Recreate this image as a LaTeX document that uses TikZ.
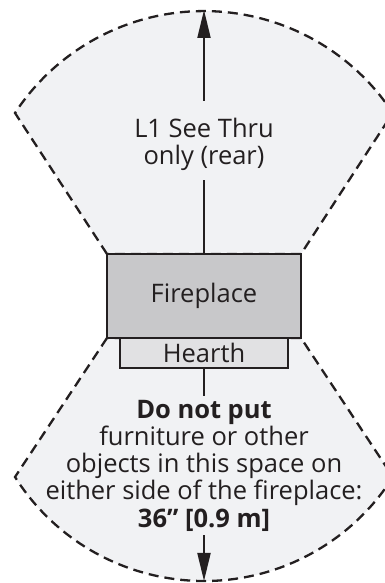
\documentclass[tikz,border=0pt]{standalone}
\usepackage{fontspec}
\setmainfont{Open Sans}
\usetikzlibrary{arrows.meta,positioning,backgrounds}
\definecolor{fanfill}{HTML}{F1F2F4}
\definecolor{fpfill}{HTML}{C8C8CA}
\definecolor{hearthfill}{HTML}{E1E1E3}
\definecolor{ink}{HTML}{231F20}
\begin{document}
\begin{tikzpicture}[x=1pt, y=1pt,
    zone/.style={fill=fanfill, draw=ink, line width=2.3pt, dash pattern=on 10pt off 6pt},
    unit/.style={draw=ink, line width=2pt, outer sep=0pt, text=ink, font=\fontsize{25.5}{27}\selectfont},
    label/.style={text=ink, align=center, inner xsep=0pt},
    stem/.style={draw=ink, line width=2pt},
    arrow/.style={-{Triangle[length=28pt, width=13pt]}, line width=2pt, draw=ink}
]
    \useasboundingbox (0,0) rectangle (385,583);

    % Fireplace and hearth
    \node[unit, fill=fpfill, minimum width=194pt, minimum height=84pt] (fp) at (204,287) {Fireplace};
    \node[unit, fill=hearthfill, minimum width=168pt, minimum height=30pt, anchor=north] (hearth) at (fp.south) {Hearth};

    % Clearance zones behind everything
    \begin{scope}[on background layer]
        \clip (0,0) rectangle (385,583);
        \filldraw[zone] (fp.north west) -- (15,470) arc[start angle=146.7, end angle=33.3, radius=226] -- (fp.north east) -- cycle;
        \filldraw[zone] (fp.south west) -- (15,106) arc[start angle=212.35, end angle=327.65, radius=223.7] -- (fp.south east) -- cycle;
    \end{scope}

    % Rear label and arrow
    \node[label, inner ysep=10pt, font=\fontsize{25.5}{26.3}\selectfont] (reartext) at (204,438.7) {L1 See Thru\\only (rear)};
    \coordinate (topend) at (204,573);
    \draw[stem] (fp.north) -- (reartext.south);
    \draw[arrow, shorten <=7.5pt] (reartext.north) -- (topend);

    % Front label and arrow
    \node[label, inner ysep=3.5pt, font=\fontsize{25.5}{27.3}\selectfont] (fronttext) at (204,117.4) {\textbf{Do not put}\\furniture or other\\objects in this space on\\either side of the fireplace:\\\textbf{36” [0.9 m]}};
    \coordinate (bottomend) at (204,2);
    \draw[stem] (hearth.south) -- (fronttext.north);
    \draw[arrow] (fronttext.south) -- (bottomend);
\end{tikzpicture}
\end{document}
